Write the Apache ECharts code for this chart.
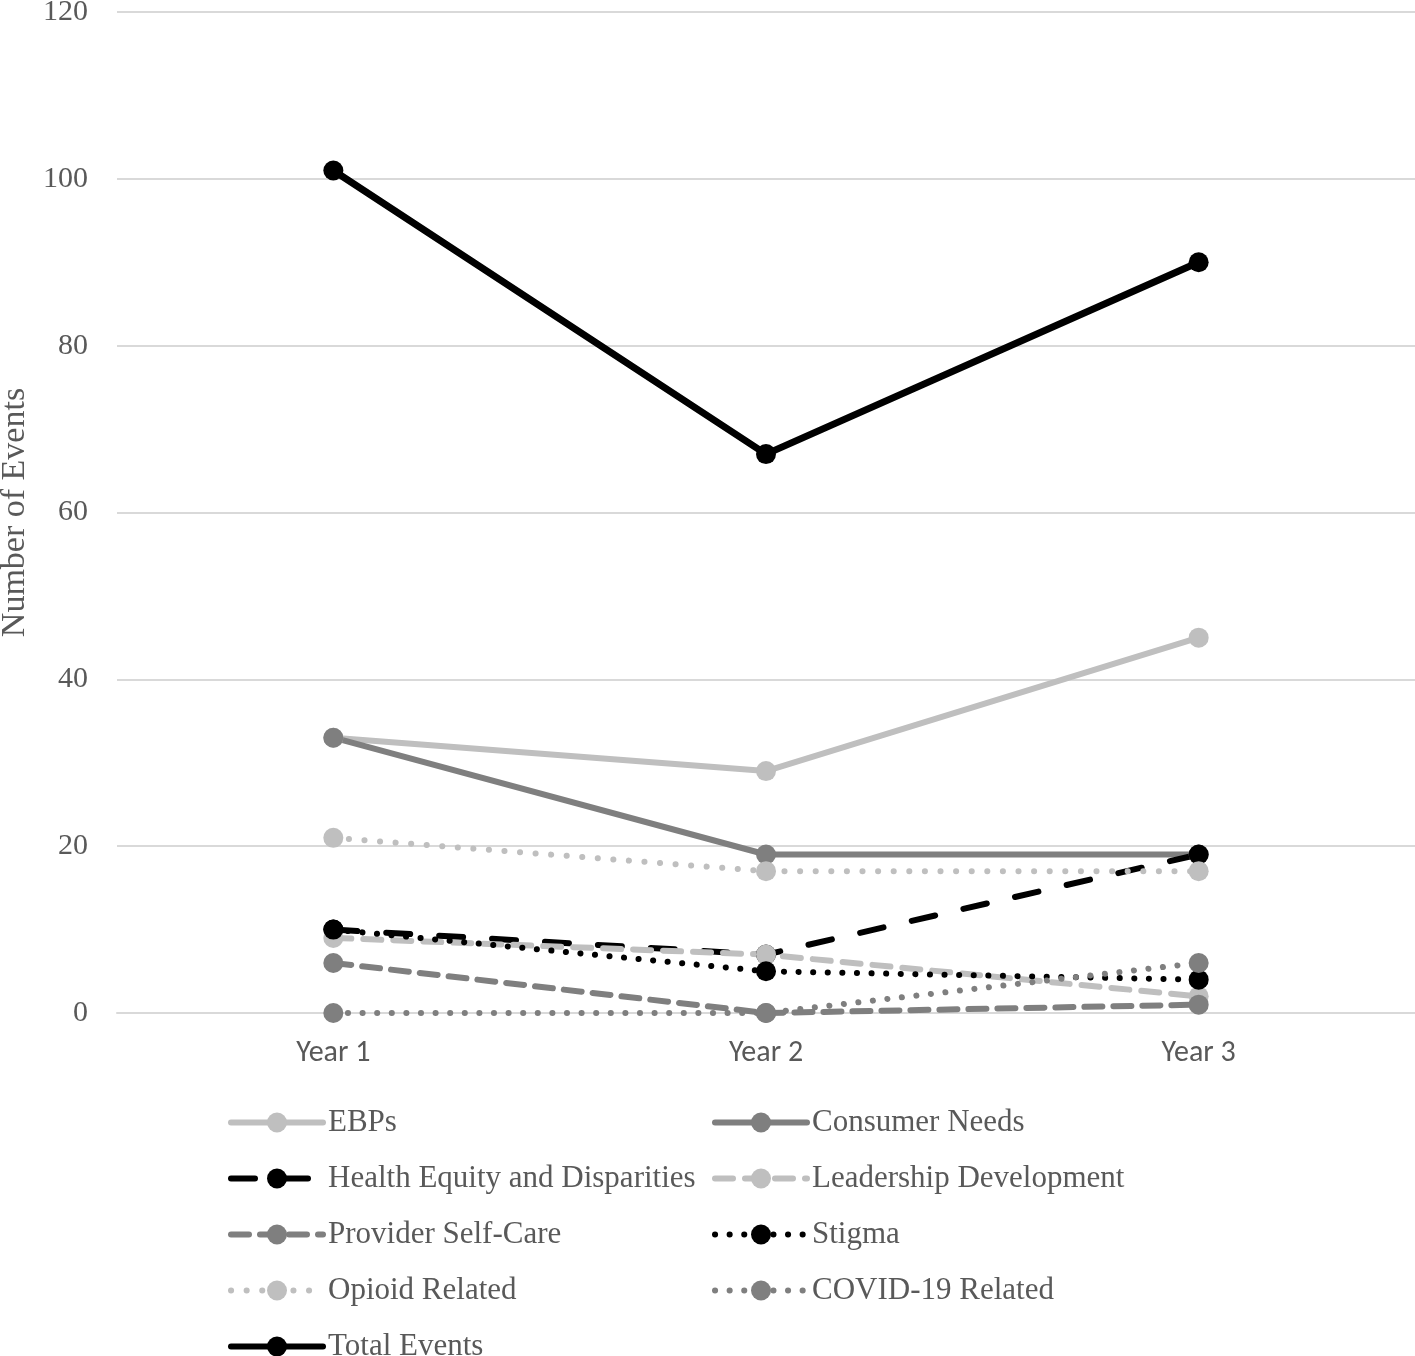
<!DOCTYPE html>
<html>
<head>
<meta charset="utf-8">
<script src="https://cdn.jsdelivr.net/npm/echarts@6/dist/echarts.min.js"></script>
<style>
html,body{margin:0;padding:0;background:#fff;}
#chart{width:1415px;height:1356px;}
</style>
</head>
<body>
<div id="chart"></div>
<script>
var categories = ['Year 1', 'Year 2', 'Year 3'];
var yTicks = [0, 20, 40, 60, 80, 100, 120];
var ebps = [33, 29, 45];
var consumerNeeds = [33, 19, 19];
var healthEquity = [10, 7, 19];
var leadership = [9, 7, 2];
var providerSelfCare = [6, 0, 1];
var stigma = [10, 5, 4];
var opioid = [21, 17, 17];
var covid = [0, 0, 6];
var totalEvents = [101, 67, 90];

var LIGHT = '#bfbfbf', MID = '#7f7f7f', DARK = '#000000';

function mk(name, data, color, type, width) {
  return {
    name: name,
    type: 'line',
    data: data,
    symbol: 'circle',
    symbolSize: 20,
    itemStyle: { color: color },
    lineStyle: { color: color, width: width || 6, type: type, cap: 'round' },
    emphasis: { disabled: true },
    animation: false
  };
}

var series = [
  mk('EBPs', ebps, LIGHT, 'solid'),
  mk('Consumer Needs', consumerNeeds, MID, 'solid'),
  mk('Health Equity and Disparities', healthEquity, DARK, [24, 29]),
  mk('Leadership Development', leadership, LIGHT, [18, 12]),
  mk('Provider Self-Care', providerSelfCare, MID, [18, 11]),
  mk('Stigma', stigma, DARK, [0.1, 14.5]),
  mk('Opioid Related', opioid, LIGHT, [0.1, 15.5]),
  mk('COVID-19 Related', covid, MID, [0.1, 14.5]),
  mk('Total Events', totalEvents, DARK, 'solid', 7)
];

var legendCommon = {
  orient: 'vertical',
  top: 1107,
  height: 320,
  padding: 0,
  itemWidth: 92,
  itemHeight: 25,
  itemGap: 25,
  lineStyle: { width: 6 },
  textStyle: { fontFamily: 'Liberation Serif, Times New Roman, serif', fontSize: 31, color: '#595959', lineHeight: 31 },
  selectedMode: false
};

var option = {
  backgroundColor: '#ffffff',
  animation: false,
  grid: { left: 117, right: 0, top: 12, bottom: 343, containLabel: false, outerBoundsMode: 'none' },
  legend: [
    Object.assign({}, legendCommon, { left: 228, data: ['EBPs', 'Health Equity and Disparities', 'Provider Self-Care', 'Opioid Related', 'Total Events'] }),
    Object.assign({}, legendCommon, { left: 712, data: ['Consumer Needs', 'Leadership Development', 'Stigma', 'COVID-19 Related'] })
  ],
  xAxis: {
    type: 'category',
    data: categories,
    boundaryGap: true,
    axisLine: { show: true, lineStyle: { color: '#d9d9d9', width: 2 } },
    axisTick: { show: false },
    axisLabel: { color: '#595959', fontSize: 30, fontFamily: 'Carlito, Lato, Open Sans, sans-serif', margin: 25 }
  },
  yAxis: {
    type: 'value',
    min: yTicks[0],
    max: yTicks[yTicks.length - 1],
    interval: 20,
    name: 'Number of Events',
    nameLocation: 'middle',
    nameGap: 84,
    nameTextStyle: { color: '#595959', fontSize: 34, fontFamily: 'Liberation Serif, Times New Roman, serif' },
    axisLine: { show: false },
    axisTick: { show: false },
    splitLine: { show: true, lineStyle: { color: '#d9d9d9', width: 2 } },
    axisLabel: { color: '#595959', fontSize: 30, fontFamily: 'Liberation Serif, Times New Roman, serif', margin: 29 }
  },
  series: series
};

var chart = echarts.init(document.getElementById('chart'), null, { renderer: 'canvas' });
chart.setOption(option);
</script>
</body>
</html>
